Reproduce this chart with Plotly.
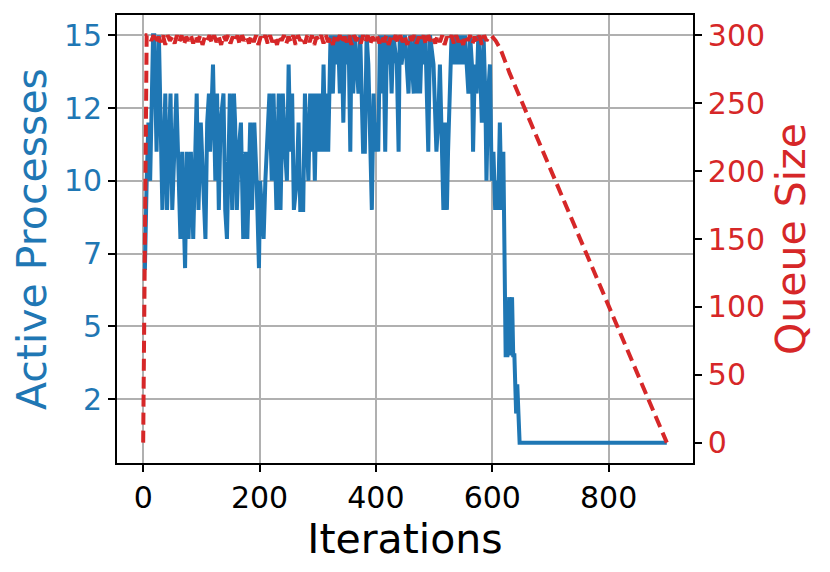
import plotly.graph_objects as go

# ---- data ----
blue_iter = [0, 3, 6, 9, 12, 17, 19, 23, 27, 31, 33, 38, 41, 47, 50, 57, 61, 64, 67, 70,
             72, 75, 78, 82, 86, 92, 95, 99, 103, 107, 110, 113, 115, 120, 124, 127, 130, 133, 138, 141,
             144, 149, 153, 156, 158, 161, 164, 168, 172, 176, 179, 184, 187, 191, 195, 199, 201, 204, 207, 210,
             217, 221, 224, 229, 233, 236, 240, 244, 247, 250, 253, 256, 259, 264, 267, 270, 275, 278, 284, 287,
             290, 292, 295, 298, 301, 304, 307, 310, 313, 315, 318, 322, 326, 329, 332, 335, 338, 341, 344, 347,
             350, 353, 356, 358, 361, 364, 367, 370, 373, 376, 378, 381, 384, 387, 390, 393, 396, 399, 401, 404,
             407, 410, 413, 416, 419, 421, 424, 427, 430, 436, 439, 441, 444, 450, 453, 456, 459, 465, 467, 470,
             473, 476, 479, 482, 485, 490, 493, 499, 504, 507, 510, 516, 519, 522, 524, 530, 533, 536, 539, 542,
             545, 548, 550, 553, 556, 559, 562, 565, 567, 570, 573, 576, 579, 582, 585, 588, 590, 593, 596, 599,
             602, 605, 608, 610, 613, 616, 619, 623, 626, 629, 631, 634, 636, 638, 641, 643, 645, 647, 900]
blue_val = [7, 7, 10, 12, 10, 15, 15, 11, 15, 10, 9, 13, 9, 13, 9, 13, 10, 8, 11, 8,
            7, 11, 8, 11, 8, 13, 9, 12, 10, 8, 12, 13, 11, 14, 10, 13, 9, 12, 13, 9,
            8, 13, 9, 13, 12, 9, 11, 12, 8, 11, 8, 12, 9, 12, 10, 7, 10, 9, 8, 10,
            13, 10, 13, 9, 13, 9, 13, 11, 10, 14, 11, 13, 9, 10, 12, 9, 9, 13, 10, 13,
            11, 13, 10, 13, 11, 13, 11, 14, 11, 13, 11, 15, 13, 15, 14, 15, 13, 15, 12, 15,
            14, 15, 11, 15, 13, 15, 14, 13, 15, 13, 11, 11, 15, 14, 12, 9, 13, 11, 12, 11,
            15, 13, 15, 11, 15, 14, 15, 13, 15, 14, 11, 15, 14, 15, 14, 13, 15, 13, 15, 13,
            15, 13, 15, 14, 15, 11, 15, 14, 11, 12, 14, 9, 12, 9, 11, 15, 14, 15, 14, 15,
            14, 15, 14, 15, 14, 13, 15, 14, 11, 14, 13, 15, 14, 12, 15, 13, 10, 13, 14, 10,
            11, 9, 10, 9, 12, 9, 11, 4, 4, 6, 4, 6, 4, 4, 2, 3, 2, 1, 1]

red_iter = [0, 6] + list(range(10, 599, 4)) + [606, 614, 622, 630, 900]
red_val = ([0, 300] +
           [300, 296, 300, 294, 299, 295, 300, 293, 300, 296, 299, 294, 300, 295, 300, 293, 299, 296, 300, 294,
            300, 295, 300, 293, 299, 296, 300, 294, 300, 295, 299, 293, 300, 296, 300, 294, 299, 295, 300, 293,
            300, 296, 299, 294, 300, 295, 300, 293, 299, 296, 300, 294, 300, 295, 299, 293, 300, 296, 300, 294,
            299, 295, 300, 293, 300, 296, 299, 294, 300, 295, 300, 293, 299, 296, 300, 294, 300, 295, 299, 293,
            300, 296, 300, 294, 299, 295, 300, 293, 300, 296, 299, 294, 300, 295, 300, 293, 299, 296, 300, 294,
            300, 295, 300, 293, 299, 296, 300, 294, 300, 295, 299, 293, 300, 296, 300, 294, 299, 295, 300, 293,
            300, 296, 299, 294, 300, 295, 300, 293, 299, 296, 300, 294, 300, 295, 299, 293, 300, 296, 300, 294,
            299, 295, 300, 293, 300, 296, 299, 300] +
           [296, 290, 281, 272, 0])

x_ticks = [0, 200, 400, 600, 800]
left_tickvals = [2.5, 5, 7.5, 10, 12.5, 15]
left_ticktext = ["2", "5", "7", "10", "12", "15"]
right_ticks = [0, 50, 100, 150, 200, 250, 300]

BLUE = "#1f77b4"
RED = "#d62728"
FONT = "DejaVu Sans"

fig = go.Figure()
fig.add_trace(go.Scatter(x=blue_iter, y=blue_val, mode="lines",
                         line=dict(color=BLUE, width=4), yaxis="y", showlegend=False))
fig.add_trace(go.Scatter(x=red_iter, y=red_val, mode="lines",
                         line=dict(color=RED, width=4, dash="12px,6px"), yaxis="y2", showlegend=False))

axis_common = dict(showline=True, linecolor="black", linewidth=1.6, ticks="outside",
                   ticklen=7, tickwidth=1.6, tickcolor="black", zeroline=False)

fig.update_layout(
    width=830, height=572,
    margin=dict(l=109, r=145, t=7, b=117, autoexpand=False),
    paper_bgcolor="white", plot_bgcolor="white",
    font=dict(family=FONT),
    xaxis=dict(range=[-45, 945], tickvals=x_ticks, showgrid=True, gridcolor="#b0b0b0", gridwidth=1.6,
               mirror=True, tickfont=dict(size=30, color="black"),
               title=dict(text="Iterations", font=dict(size=41, color="black"), standoff=5),
               **axis_common),
    yaxis=dict(range=[0.3, 15.7], tickvals=left_tickvals, ticktext=left_ticktext,
               showgrid=True, gridcolor="#b0b0b0", gridwidth=1.6,
               tickfont=dict(size=30, color=BLUE),
               title=dict(text="Active Processes", font=dict(size=41, color=BLUE), standoff=6),
               **axis_common),
    yaxis2=dict(range=[-15, 315], tickvals=right_ticks, overlaying="y", side="right",
                showgrid=False, tickfont=dict(size=30, color=RED),
                title=dict(text="Queue Size", font=dict(size=41, color=RED), standoff=12),
                **axis_common),
)

fig.write_html("out.html")
